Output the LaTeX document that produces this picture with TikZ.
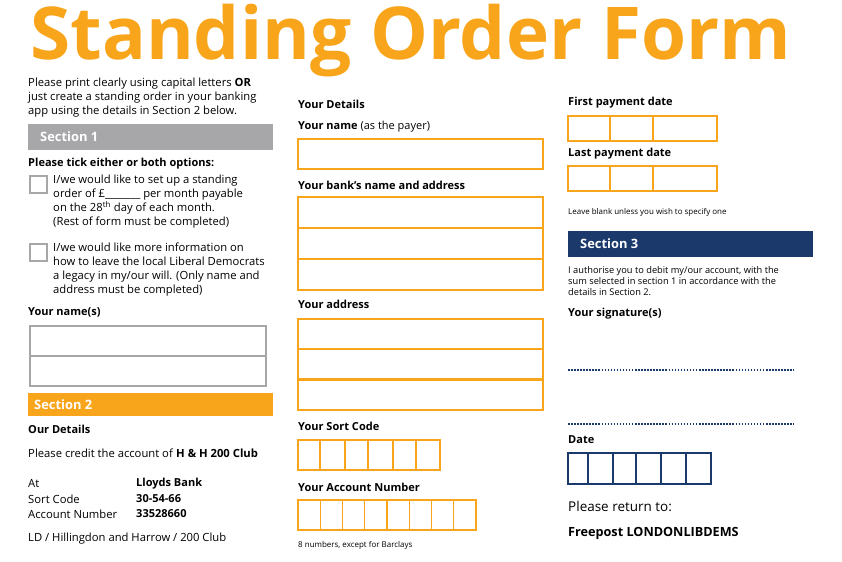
\documentclass[tikz,border=0pt]{standalone}
\usepackage{fontspec}
\setmainfont{Open Sans}
\usetikzlibrary{calc}
\definecolor{soorange}{HTML}{F9A51B}
\definecolor{sogray}{HTML}{A7A7A9}
\definecolor{sonavy}{HTML}{1B3A6B}
\tikzset{
  txt/.style={anchor=west,inner sep=0pt,font=\fontsize{9.6}{11.8}\selectfont},
  lbl/.style={anchor=west,inner sep=0pt,font=\fontsize{9.4}{11}\selectfont\bfseries},
  small/.style={anchor=west,inner sep=0pt,font=\fontsize{6.8}{8}\selectfont},
  obox/.style={draw=soorange,line width=1pt},
  gbox/.style={draw=sogray,line width=1pt},
  nbox/.style={draw=sonavy,line width=1pt},
  dotline/.style={sonavy,line width=2pt,dash pattern=on 1.3pt off 1.3pt}
}
\begin{document}
\begin{tikzpicture}[x=0.03cm,y=-0.03cm]
  \useasboundingbox (0,0) rectangle (842,561);
  % title
  \node[anchor=west,inner sep=0pt,text=soorange,font=\fontsize{62.2}{63}\selectfont\bfseries] (title) at (30,41) {Standing Order Form};
  % left column
  \node[txt,anchor=north west,align=left] (intro) at (28,78)
    {Please print clearly using capital letters \textbf{OR}\\just create a standing order in your banking\\app using the details in Section 2 below.};
  \fill[sogray] (28,124) rectangle (273,150);
  \node[txt,font=\fontsize{11}{13}\selectfont\bfseries,text=white] (sec1) at (40,137) {Section 1};
  \node[lbl] (tick) at (28,164) {Please tick either or both options:};
  \draw[gbox] (30,176) rectangle (47,193);
  \node[txt,anchor=north west,align=left] (opt1) at (53,175)
    {I/we would like to set up a standing\\order of £\_\_\_\_\_\_\_ per month payable\\on the 28\textsuperscript{th} day of each month.\\(Rest of form must be completed)};
  \draw[gbox] (30,244) rectangle (47,261);
  \node[txt,anchor=north west,align=left] (opt2) at (53,243)
    {I/we would like more information on\\how to leave the local Liberal Democrats\\a legacy in my/our will. (Only name and\\address must be completed)};
  \node[lbl] (names) at (28,312) {Your name(s)};
  \draw[gbox] (30,326) rectangle (266,356);
  \draw[gbox] (30,356) rectangle (266,386);
  \fill[soorange] (28,393) rectangle (273,416);
  \node[txt,font=\fontsize{11}{13}\selectfont\bfseries,text=white] (sec2) at (34,405) {Section 2};
  \node[lbl] (our) at (28,429) {Our Details};
  \node[txt] (credit) at (28,453) {Please credit the account of \textbf{H \& H 200 Club}};
  \node[txt] (at) at (28,484) {At};
  \node[txt] (sort) at (28,499) {Sort Code};
  \node[txt] (acc) at (28,514) {Account Number};
  \node[lbl] (bank) at (136,484) {Lloyds Bank};
  \node[lbl] (sortv) at (136,499) {30-54-66};
  \node[lbl] (accv) at (136,514) {33528660};
  \node[txt] (ld) at (28,539) {LD / Hillingdon and Harrow / 200 Club};
  % middle column
  \node[lbl] (yd) at (298,104) {Your Details};
  \node[lbl] (yn) at (298,127) {Your name \textmd{(as the payer)}};
  \draw[obox] (298,139) rectangle (543,169);
  \node[lbl] (yb) at (298,185) {Your bank’s name and address};
  \foreach \y in {197,228,259} \draw[obox] (298,\y) rectangle (543,\y+31);
  \node[lbl] (ya) at (298,304) {Your address};
  \foreach \y in {319,349,380} \draw[obox] (298,\y) rectangle (543,\y+30);
  \node[lbl] (ys) at (298,426) {Your Sort Code};
  \foreach \a/\b in {298/320,320/345,345/368,368/393,393/416,416/440} \draw[obox] (\a,440) rectangle (\b,470);
  \node[lbl] (yan) at (298,487) {Your Account Number};
  \foreach \i in {0,...,7} \draw[obox] (298+\i*22.25,500) rectangle (298+\i*22.25+22.25,530);
  \node[small] (eight) at (298,545) {8 numbers, except for Barclays};
  % right column
  \node[lbl] (first) at (568,103) {First payment date};
  \node[lbl] (last) at (568,154) {Last payment date};
  \foreach \y in {116,166} {
    \draw[obox] (568,\y) rectangle (610,\y+25);
    \draw[obox] (610,\y) rectangle (653,\y+25);
    \draw[obox] (653,\y) rectangle (717,\y+25);
  }
  \node[small] (blank) at (568,212) {Leave blank unless you wish to specify one};
  \fill[sonavy] (568,231) rectangle (813,257);
  \node[txt,font=\fontsize{11}{13}\selectfont\bfseries,text=white] (sec3) at (580,244) {Section 3};
  \node[anchor=north west,inner sep=0pt,align=left,font=\fontsize{7.9}{9.7}\selectfont] (auth) at (568,266)
    {I authorise you to debit my/our account, with the\\sum selected in section 1 in accordance with the\\details in Section 2.};
  \node[lbl] (sig) at (568,314) {Your signature(s)};
  \draw[dotline] (568,370) -- (794,370);
  \draw[dotline] (568,424) -- (794,424);
  \node[lbl] (date) at (568,440) {Date};
  \foreach \a/\b in {568/588,588/613,613/636,636/661,661/686,686/711} \draw[nbox] (\a,453) rectangle (\b,484);
  \node[txt,font=\fontsize{11.5}{13}\selectfont] (ret) at (568,506) {Please return to:};
  \node[lbl,font=\fontsize{10.8}{13}\selectfont\bfseries] (free) at (568,533) {Freepost LONDONLIBDEMS};
\end{tikzpicture}
\end{document}
